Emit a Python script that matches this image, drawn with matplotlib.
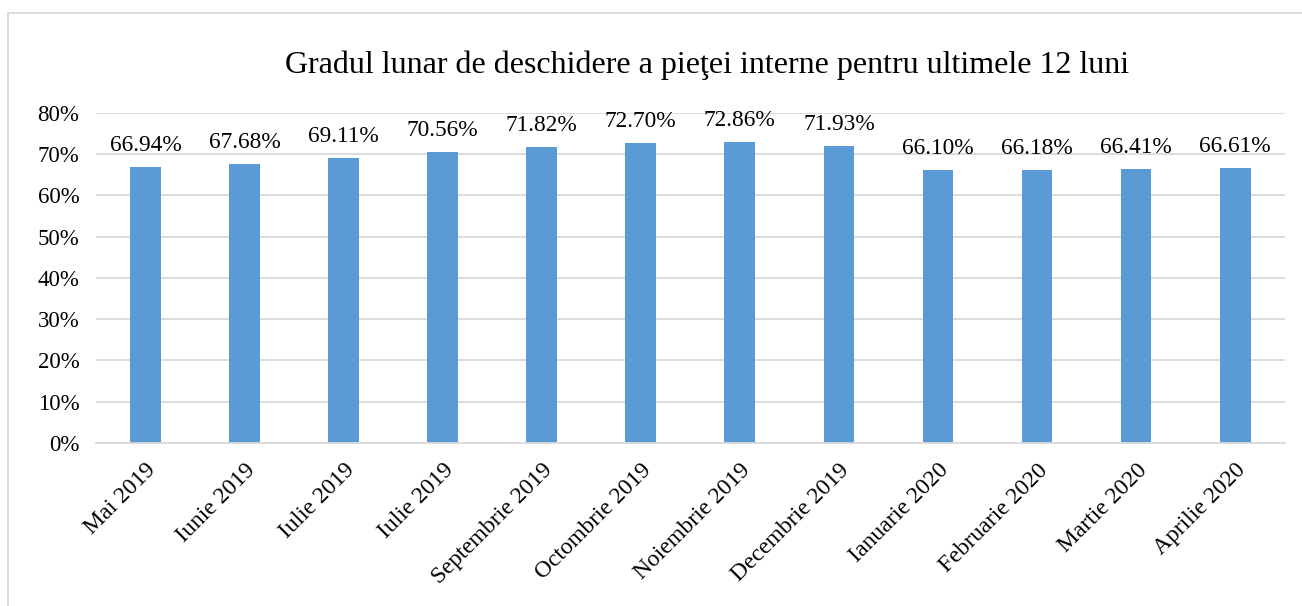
import matplotlib.pyplot as plt
from matplotlib.patches import Rectangle

# data
months = ['Mai 2019', 'Iunie 2019', 'Iulie 2019', 'Iulie 2019',
          'Septembrie 2019', 'Octombrie 2019', 'Noiembrie 2019',
          'Decembrie 2019', 'Ianuarie 2020', 'Februarie 2020',
          'Martie 2020', 'Aprilie 2020']
values = [66.94, 67.68, 69.11, 70.56, 71.82, 72.70, 72.86, 71.93,
          66.10, 66.18, 66.41, 66.61]
yticks = [0, 10, 20, 30, 40, 50, 60, 70, 80]

plt.rcParams['font.family'] = ['Liberation Serif', 'DejaVu Serif']

fig = plt.figure(figsize=(13.02, 6.06), dpi=100)
ax = fig.add_axes([0.0737, 0.269, 0.913, 0.5446])

pos = list(range(len(values)))
ax.bar(pos, values, width=0.31, color='#5B9BD5', zorder=2)

for x, v in zip(pos, values):
    ax.annotate('{:.2f}%'.format(v), (x, v), xytext=(0, 8),
                textcoords='offset points', ha='center', va='bottom',
                fontsize=16.8)

ax.set_xlim(-0.5, len(values) - 0.5)
ax.set_ylim(0, 80)
ax.set_yticks(yticks)
ax.set_yticklabels(['{}%'.format(t) for t in yticks], fontsize=16.5)
ax.set_xticks(pos)
ax.set_xticklabels(months, rotation=45, ha='right', rotation_mode='anchor',
                   fontsize=17)
ax.tick_params(length=0)
ax.tick_params(axis='x', pad=12)
ax.tick_params(axis='y', pad=12)
ax.grid(axis='y', color='#D9D9D9', linewidth=1.3, zorder=0)
for s in ['top', 'right', 'left']:
    ax.spines[s].set_visible(False)
ax.spines['bottom'].set_color('#D9D9D9')
ax.spines['bottom'].set_linewidth(1.3)

fig.text(0.543, 0.893, 'Gradul lunar de deschidere a pieţei interne pentru ultimele 12 luni',
         ha='center', va='center', fontsize=23)

# chart border
fig.patches.append(Rectangle((8 / 1302, -0.1), 1.2, 1 - 13 / 606 + 0.1,
                             transform=fig.transFigure, fill=False,
                             edgecolor='#D9D9D9', linewidth=1.3))

plt.savefig('out.png', dpi=100)
